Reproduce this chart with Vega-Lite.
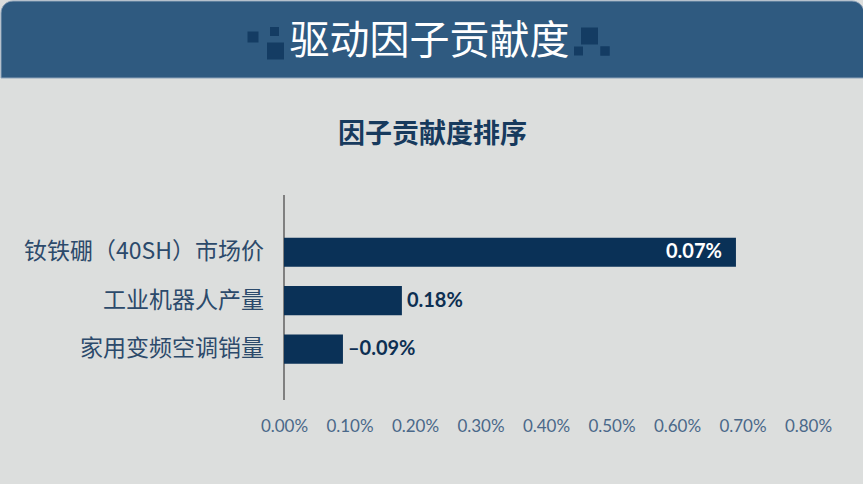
{
  "$schema": "https://vega.github.io/schema/vega-lite/v6.json",
  "background": "#dcdedd",
  "padding": { "left": 0, "top": 0, "right": 0, "bottom": 50 },
  "spacing": 0,
  "config": {
    "view": { "stroke": null },
    "font": "Noto Sans CJK SC"
  },
  "datasets": {
    "header": [{ "title": "驱动因子贡献度", "subtitle": "因子贡献度排序" }],
    "bars": [
      { "factor": "钕铁硼（40SH）市场价", "value": 0.0069, "label": "0.07%" },
      { "factor": "工业机器人产量", "value": 0.0018, "label": "0.18%" },
      { "factor": "家用变频空调销量", "value": 0.0009, "label": "–0.09%" }
    ]
  },
  "vconcat": [
    {
      "width": 863,
      "height": 77,
      "data": { "name": "header" },
      "layer": [
        {
          "mark": {
            "type": "rect",
            "color": "#2f5a80",
            "cornerRadiusTopLeft": 12,
            "cornerRadiusTopRight": 12,
            "stroke": "#8ea3ba",
            "strokeWidth": 1
          },
          "encoding": {}
        },
        {
          "mark": { "type": "point", "shape": "square", "filled": true, "opacity": 1, "color": "#143c63", "size": 121, "xOffset": -179.5, "yOffset": -2.5 },
          "encoding": {}
        },
        {
          "mark": { "type": "point", "shape": "square", "filled": true, "opacity": 1, "color": "#143c63", "size": 81, "xOffset": -158, "yOffset": -8 },
          "encoding": {}
        },
        {
          "mark": { "type": "point", "shape": "square", "filled": true, "opacity": 1, "color": "#143c63", "size": 289, "xOffset": -157, "yOffset": 11.5 },
          "encoding": {}
        },
        {
          "mark": { "type": "point", "shape": "square", "filled": true, "opacity": 1, "color": "#143c63", "size": 289, "xOffset": 157, "yOffset": -3.5 },
          "encoding": {}
        },
        {
          "mark": { "type": "point", "shape": "square", "filled": true, "opacity": 1, "color": "#143c63", "size": 81, "xOffset": 146, "yOffset": 11.5 },
          "encoding": {}
        },
        {
          "mark": { "type": "point", "shape": "square", "filled": true, "opacity": 1, "color": "#143c63", "size": 90, "xOffset": 172.5, "yOffset": 11.5 },
          "encoding": {}
        },
        {
          "mark": { "type": "text", "fontSize": 40, "color": "#ffffff", "baseline": "middle", "dx": -3, "dy": 2 },
          "encoding": { "text": { "field": "title" } }
        }
      ]
    },
    {
      "width": 863,
      "height": 115,
      "data": { "name": "header" },
      "mark": { "type": "text", "fontSize": 27, "fontWeight": "bold", "color": "#173a5d", "baseline": "middle", "dy": -1.5 },
      "encoding": { "text": { "field": "subtitle" } }
    },
    {
      "width": 863,
      "height": 205,
      "data": { "name": "bars" },
      "layer": [
        {
          "transform": [{ "aggregate": [{ "op": "count", "as": "n" }] }],
          "mark": { "type": "rule", "color": "#808080", "strokeWidth": 2 },
          "encoding": { "x": { "datum": 0, "type": "quantitative" } }
        },
        {
          "mark": { "type": "bar", "color": "#0a3157" },
          "encoding": {
            "y": {
              "field": "factor",
              "type": "nominal",
              "sort": ["钕铁硼（40SH）市场价", "工业机器人产量", "家用变频空调销量"],
              "scale": { "paddingInner": 0.4, "paddingOuter": 0.815, "align": 0.54 },
              "axis": null
            },
            "x": {
              "field": "value",
              "type": "quantitative",
              "scale": { "domain": [0, 0.008], "nice": false, "range": [283, 807] },
              "axis": {
                "title": null,
                "values": [0, 0.001, 0.002, 0.003, 0.004, 0.005, 0.006, 0.007, 0.008],
                "format": ".2%",
                "domain": false,
                "ticks": false,
                "grid": false,
                "labelOverlap": false,
                "labelFlush": false,
                "labelFont": "Lato",
                "labelFontSize": 17,
                "labelColor": "#4a6889",
                "labelPadding": 18
              }
            }
          }
        },
        {
          "mark": { "type": "text", "align": "right", "baseline": "middle", "dx": -20, "fontSize": 23, "color": "#2c4a6b" },
          "encoding": {
            "y": { "field": "factor", "type": "nominal", "sort": ["钕铁硼（40SH）市场价", "工业机器人产量", "家用变频空调销量"] },
            "x": { "datum": 0, "type": "quantitative" },
            "text": { "field": "factor" }
          }
        },
        {
          "transform": [{ "filter": "datum.value >= 0.005" }],
          "mark": { "type": "text", "align": "right", "baseline": "middle", "dx": -14, "font": "Lato", "fontWeight": "bold", "fontSize": 20, "color": "#ffffff" },
          "encoding": {
            "y": { "field": "factor", "type": "nominal", "sort": ["钕铁硼（40SH）市场价", "工业机器人产量", "家用变频空调销量"] },
            "x": { "field": "value", "type": "quantitative" },
            "text": { "field": "label" }
          }
        },
        {
          "transform": [{ "filter": "datum.value < 0.005" }],
          "mark": { "type": "text", "align": "left", "baseline": "middle", "dx": 5, "font": "Lato", "fontWeight": "bold", "fontSize": 20, "color": "#0d2f52" },
          "encoding": {
            "y": { "field": "factor", "type": "nominal", "sort": ["钕铁硼（40SH）市场价", "工业机器人产量", "家用变频空调销量"] },
            "x": { "field": "value", "type": "quantitative" },
            "text": { "field": "label" }
          }
        }
      ]
    }
  ]
}
